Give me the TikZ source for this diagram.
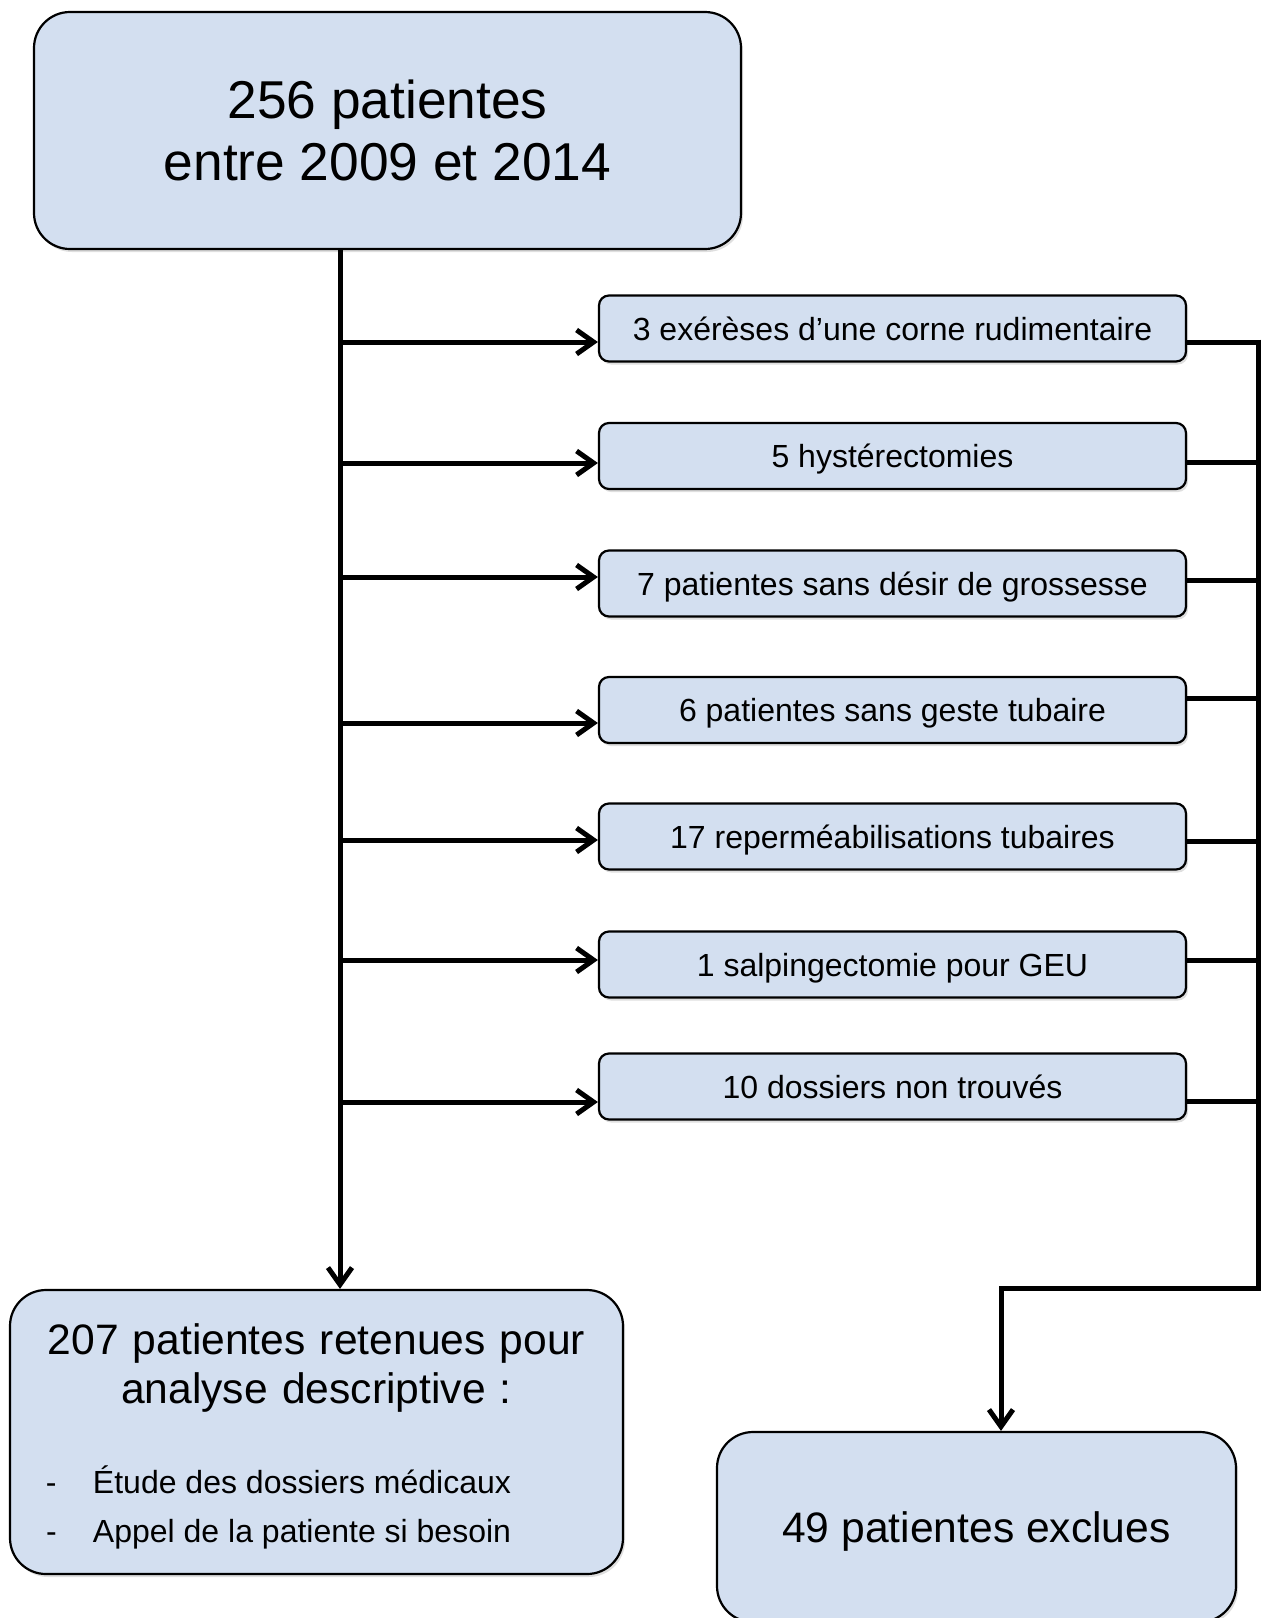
\documentclass[tikz,border=0pt]{standalone}
\usepackage{fontspec}
\setmainfont{Liberation Sans}
\usetikzlibrary{arrows.meta, positioning, shadows}
\definecolor{boxblue}{RGB}{211,223,240}
\newcommand{\listline}[1]{\makebox[613pt][l]{\fontsize{32}{49}\selectfont\spaceskip=0pt\xspaceskip=0pt\hspace{36pt}\makebox[47pt][l]{-}#1}}

\begin{document}
\begin{tikzpicture}[x=1pt, y=-1pt,
	bigbox/.style={draw, line width=2.2pt, fill=boxblue, rounded corners=36pt, inner sep=0pt,
		drop shadow={opacity=0.25, shadow xshift=2pt, shadow yshift=-3pt}},
	smallbox/.style={draw, line width=2.2pt, fill=boxblue, rounded corners=10pt, inner sep=0pt,
		minimum width=587pt, minimum height=66pt, text height=23pt, text depth=0pt,
		font=\fontsize{32}{38}\selectfont,
		drop shadow={opacity=0.25, shadow xshift=2pt, shadow yshift=-3pt}},
	line/.style={line width=5pt},
	arr/.style={line width=5pt, -{Straight Barb[length=17pt, width=24pt]}}]
			\useasboundingbox (0,0) rectangle (1269,1618);

			% Draw the boxes
			\node[bigbox, minimum width=707pt, minimum height=237pt, align=center,
				font=\fontsize{53.3}{62}\selectfont] (start) at (387.5,130.5)
				{256 patientes\\entre 2009 et 2014};

			\node[smallbox] (b1) at (892.5,328.5) {3 exérèses d’une corne rudimentaire};
			\node[smallbox] (b2) at (892.5,456) {5 hystérectomies};
			\node[smallbox] (b3) at (892.5,583.5) {7 patientes sans désir de grossesse};
			\node[smallbox] (b4) at (892.5,710) {6 patientes sans geste tubaire};
			\node[smallbox] (b5) at (892.5,836.5) {17 reperméabilisations tubaires};
			\node[smallbox] (b6) at (892.5,964.5) {1 salpingectomie pour GEU};
			\node[smallbox] (b7) at (892.5,1086.5) {10 dossiers non trouvés};

			\node[bigbox, minimum width=613pt, minimum height=284pt, text width=613pt, align=center,
				font=\fontsize{42.6}{49}\selectfont] (kept) at (316.5,1432)
				{\rule{0pt}{39pt}207 patientes retenues pour\\analyse descriptive :\\[41pt]
				\listline{Étude des dossiers médicaux}\\
				\listline{Appel de la patiente si besoin}};

			\node[bigbox, minimum width=519pt, minimum height=190pt, text height=30.5pt, text depth=0pt,
				font=\fontsize{42.6}{49}\selectfont] (excl) at (976.5,1527) {49 patientes exclues};

			% Points on the two vertical lines
			\coordinate (t0) at (340,249);
			\coordinate (t1) at (340,342);
			\coordinate (t2) at (340,463);
			\coordinate (t3) at (340,577);
			\coordinate (t4) at (340,723);
			\coordinate (t5) at (340,840);
			\coordinate (t6) at (340,960);
			\coordinate (t7) at (340,1102);

			\coordinate (r1) at (1258,342);
			\coordinate (r2) at (1258,462);
			\coordinate (r3) at (1258,580);
			\coordinate (r4) at (1258,698);
			\coordinate (r5) at (1258,841);
			\coordinate (r6) at (1258,960);
			\coordinate (r7) at (1258,1101);
			\coordinate (r8) at (1258,1288);
			\coordinate (e0) at (1001,1288);

			% Main line down to the kept patients
			\draw[arr] (t0) -- (t0 |- kept.north);

			% Arrows into the excluded boxes
			\draw[arr] (t1) -- (t1 -| b1.west);
			\draw[arr] (t2) -- (t2 -| b2.west);
			\draw[arr] (t3) -- (t3 -| b3.west);
			\draw[arr] (t4) -- (t4 -| b4.west);
			\draw[arr] (t5) -- (t5 -| b5.west);
			\draw[arr] (t6) -- (t6 -| b6.west);
			\draw[arr] (t7) -- (t7 -| b7.west);

			% Lines out of the boxes on the right
			\draw[line] (r1 -| b1.east) -- (r1);
			\draw[line] (r2 -| b2.east) -- (r2);
			\draw[line] (r3 -| b3.east) -- (r3);
			\draw[line] (r4 -| b4.east) -- (r4);
			\draw[line] (r5 -| b5.east) -- (r5);
			\draw[line] (r6 -| b6.east) -- (r6);
			\draw[line] (r7 -| b7.east) -- (r7);

			% Right line down to the excluded patients
			\draw[arr] ([yshift=2.5pt]r1) -- (r8) -- (e0) -- (e0 |- excl.north);

		\end{tikzpicture}
\end{document}
